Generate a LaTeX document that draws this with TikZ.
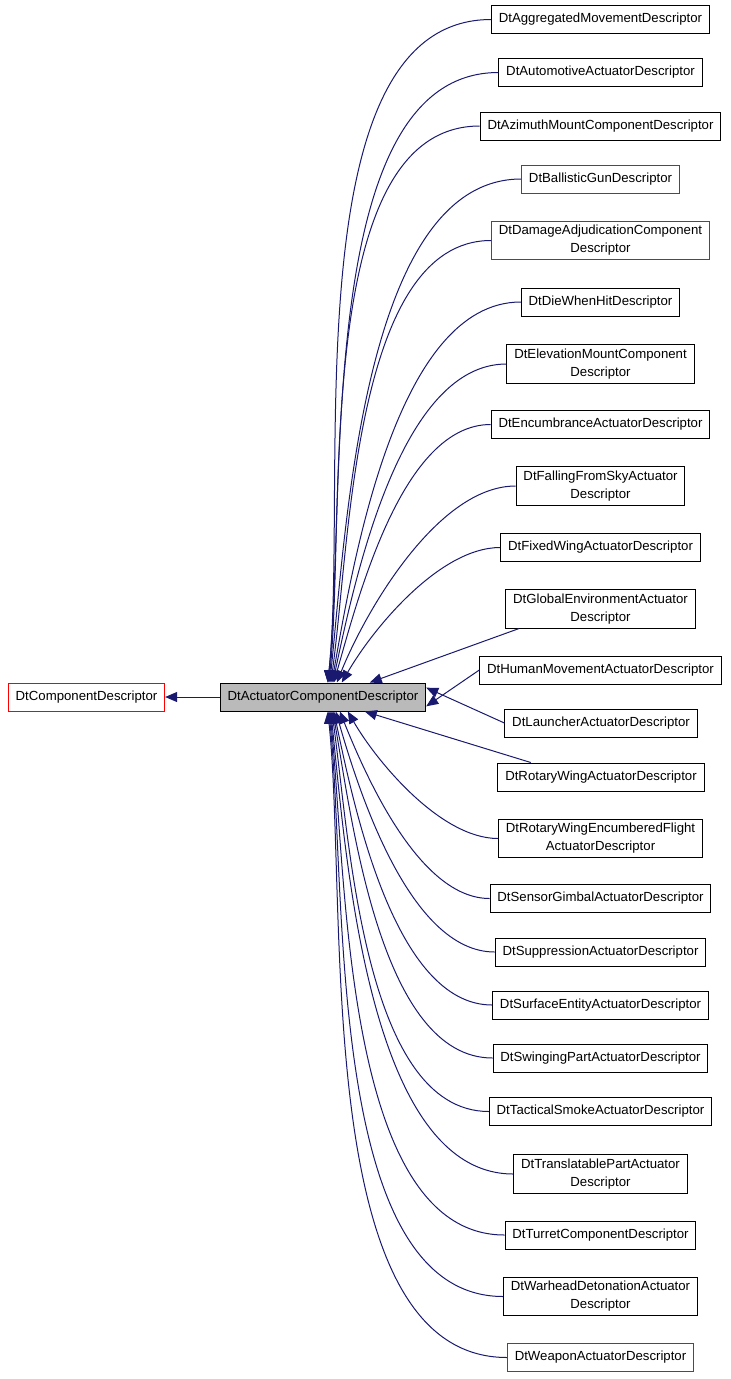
\documentclass[tikz,border=0pt]{standalone}
\usepackage{fontspec}
\setmainfont{Liberation Sans}
\usetikzlibrary{arrows,arrows.meta}

\begin{document}
\begin{tikzpicture}[x=0.75pt,y=-0.75pt,
    class node/.style={rectangle,draw,line width=0.75pt,fill=white,align=center,
      font=\fontsize{9.9}{13.5}\selectfont,inner xsep=5.5pt,inner ysep=3pt,minimum height=21pt},
    base node/.style={class node,draw=red},
    link/.style={{Triangle[length=9pt,width=7.5pt]}-,draw={rgb,255:red,25;green,25;blue,112},
      line width=0.75pt}]
  \useasboundingbox (0,0) rectangle (731,1379);

    \node[base node] (CD) at (86.5,697) {DtComponentDescriptor};
    \node[class node,fill=black!27] (AC) at (323,697) {DtActuatorComponentDescriptor};
    \draw[link] (CD) -- (AC);

  % children above the base: name/text/y/colour/shift/angle
  \foreach \n/\t/\y/\c/\dx/\ang in {
      AM/DtAggregatedMovementDescriptor/19.5/black/108/84,
      AU/DtAutomotiveActuatorDescriptor/72.5/black/108/84,
      AZ/DtAzimuthMountComponentDescriptor/126/black/109/84,
      BG/DtBallisticGunDescriptor/179/red/110/84,
      DA/{DtDamageAdjudicationComponent\\Descriptor}/240.5/red/111/82,
      DW/DtDieWhenHitDescriptor/302/black/112/80,
      EM/{DtElevationMountComponent\\Descriptor}/364/black/113/78,
      EN/DtEncumbranceActuatorDescriptor/424.5/black/114/74,
      FS/{DtFallingFromSkyActuator\\Descriptor}/486/black/117/68,
      FW/DtFixedWingActuatorDescriptor/547.5/black/122/60}{
    \node[class node,draw=\c] (\n) at (600.5,\y) {\t};
    \draw[link] ([xshift={\dx*0.75pt}]AC.north west) to[in=180,out=\ang,looseness=0.75] (\n.west);
  }
  \node[class node] (GE) at (600.5,609) {DtGlobalEnvironmentActuator\\Descriptor};
  \draw[link] ([xshift={150*0.75pt}]AC.north west) -- ([xshift=10pt]GE.south west);

  \node[class node] (HM) at (600.5,670) {DtHumanMovementActuatorDescriptor};
  \node[class node] (LA) at (601,723) {DtLauncherActuatorDescriptor};
  \draw[link] ([yshift=-7pt]AC.east) -- (HM.west);
  \draw[link] ([yshift=7pt]AC.east) -- (LA.west);

  \node[class node] (RW) at (601,777) {DtRotaryWingActuatorDescriptor};
  \draw[link] ([xshift={145*0.75pt}]AC.south west) -- ([xshift=25pt]RW.north west);

  % children below the base
  \foreach \n/\t/\y/\c/\dx/\ang in {
      RE/{DtRotaryWingEncumberedFlight\\ActuatorDescriptor}/838.5/black/128/-60,
      SG/DtSensorGimbalActuatorDescriptor/898.5/black/120/-68,
      SU/DtSuppressionActuatorDescriptor/952/black/116/-74,
      SE/DtSurfaceEntityActuatorDescriptor/1005/black/114/-78,
      SW/DtSwingingPartActuatorDescriptor/1058/black/113/-80,
      TS/DtTacticalSmokeActuatorDescriptor/1111.5/black/112/-82,
      TP/{DtTranslatablePartActuator\\Descriptor}/1174/black/111/-84,
      TU/DtTurretComponentDescriptor/1235/black/110/-84,
      WD/{DtWarheadDetonationActuator\\Descriptor}/1296.5/black/109/-84,
      WA/DtWeaponActuatorDescriptor/1357.5/red/108/-84}{
    \node[class node,draw=\c] (\n) at (600.5,\y) {\t};
    \draw[link] ([xshift={\dx*0.75pt}]AC.south west) to[in=180,out=\ang,looseness=0.75] (\n.west);
  }
\end{tikzpicture}
\end{document}
